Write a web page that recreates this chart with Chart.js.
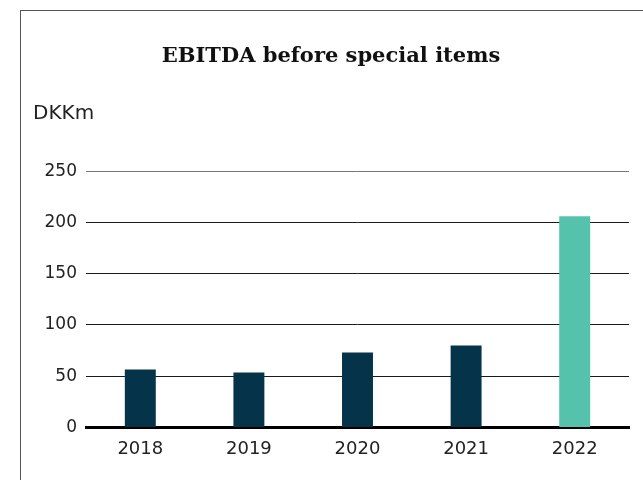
<!DOCTYPE html>
<html>
<head>
<meta charset="utf-8">
<script src="https://cdn.jsdelivr.net/npm/chart.js@4"></script>
<style>
  html, body { margin: 0; padding: 0; background: #fff; }
  #wrap { position: relative; width: 643px; height: 480px; overflow: hidden; }
  #frame { position: absolute; left: 20px; top: 10px; width: 700px; height: 600px;
           border-left: 1px solid #555; border-top: 1px solid #555; box-sizing: border-box; }
  canvas { position: absolute; left: 0; top: 0; }
</style>
</head>
<body>
<div id="wrap">
  <div id="frame"></div>
  <canvas id="c" width="643" height="480"></canvas>
</div>
<script>
const categories = ['2018', '2019', '2020', '2021', '2022'];
const ebitdaValues = [56.5, 53.5, 73, 80, 206];
const yTicks = [0, 50, 100, 150, 200, 250];
const titleText = 'EBITDA before special items';
const unitText = 'DKKm';

const dark = '#04334a';
const teal = '#55c2ab';
const barColors = categories.map((c, i) => i === categories.length - 1 ? teal : dark);

new Chart(document.getElementById('c'), {
  type: 'bar',
  data: {
    labels: categories,
    datasets: [{
      data: ebitdaValues,
      backgroundColor: barColors,
      borderWidth: 0,
      barPercentage: 0.285,
      categoryPercentage: 1
    }]
  },
  options: {
    responsive: false,
    animation: false,
    layout: { padding: { left: 33, right: 14, top: 10, bottom: 17 } },
    plugins: {
      legend: { display: false },
      tooltip: { enabled: false },
      title: {
        display: true,
        text: titleText,
        color: '#111',
        font: { family: 'DejaVu Serif', weight: 'bold', size: 21 },
        padding: { top: 34, bottom: 0 }
      },
      subtitle: {
        display: true,
        text: unitText,
        align: 'start',
        color: '#222',
        font: { family: 'DejaVu Sans', size: 20 },
        padding: { top: 33, bottom: 45 }
      }
    },
    scales: {
      x: {
        grid: { display: false },
        border: { display: true, color: '#000', width: 3 },
        ticks: { color: '#222', font: { family: 'DejaVu Sans', size: 18 }, padding: 3 }
      },
      y: {
        min: 0, max: 250,
        afterBuildTicks: (scale) => { scale.ticks = yTicks.map(v => ({ value: v })); },
        afterFit: (scale) => { scale.width = 53; },
        border: { display: false },
        grid: {
          drawTicks: false,
          color: (ctx) => ctx.tick && ctx.tick.value === 250 ? '#777' : '#1a1a1a',
          lineWidth: 1
        },
        ticks: { color: '#222', font: { family: 'DejaVu Sans', size: 17 }, padding: 9 }
      }
    }
  }
});
</script>
</body>
</html>
